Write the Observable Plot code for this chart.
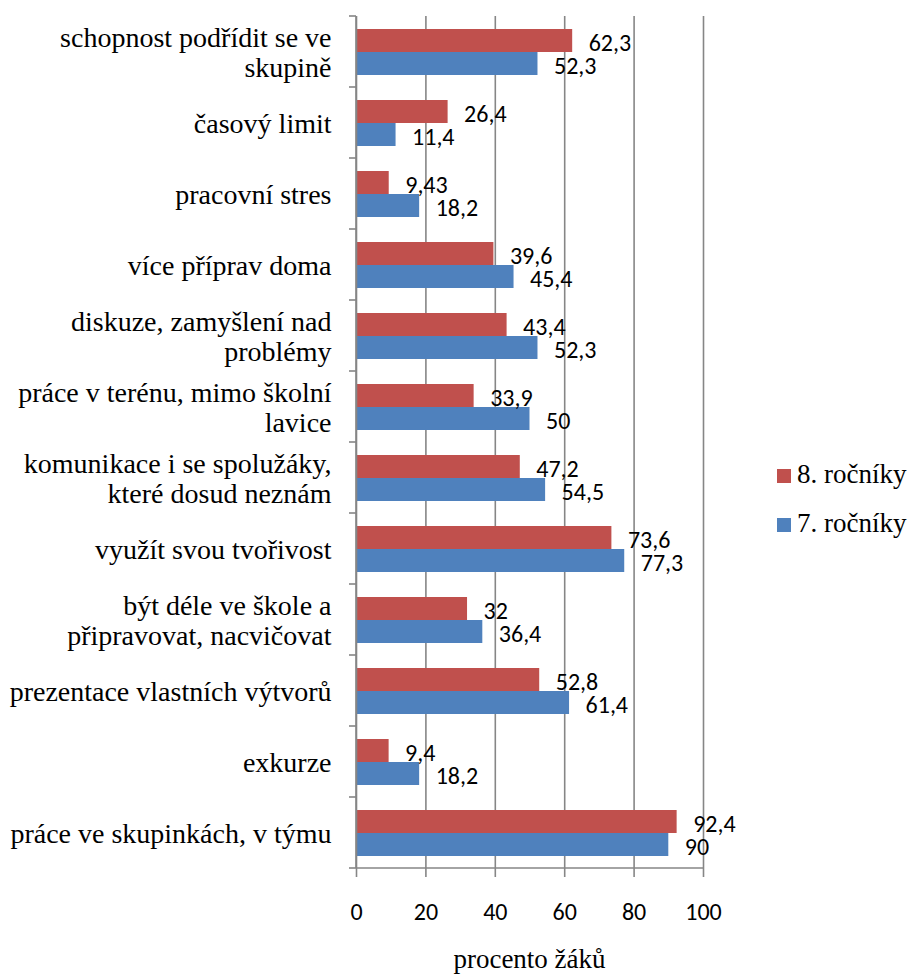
<!DOCTYPE html>
<html><head><meta charset="utf-8">
<script src="https://cdn.jsdelivr.net/npm/d3@7"></script>
<script src="https://cdn.jsdelivr.net/npm/@observablehq/plot@0.6"></script>
<style>
body{margin:0;background:#fff;}
#wrap{position:relative;width:914px;height:979px;background:#fff;}
.lbl{position:absolute;color:#000;font-size:27px;line-height:27px;white-space:nowrap;}
.sw{position:absolute;width:14px;height:14px;}
</style></head><body>
<div id="wrap"></div>
<script>
const categories = [
  "schopnost podřídit se ve\nskupině",
  "časový limit",
  "pracovní stres",
  "více příprav doma",
  "diskuze, zamyšlení nad\nproblémy",
  "práce v terénu, mimo školní\nlavice",
  "komunikace i se spolužáky,\nkteré dosud neznám",
  "využít svou tvořivost",
  "být déle ve škole a\npřipravovat, nacvičovat",
  "prezentace vlastních výtvorů",
  "exkurze",
  "práce ve skupinkách, v týmu"
];
const series = ["8. ročníky", "7. ročníky"];
const values8 = [62.3, 26.4, 9.43, 39.6, 43.4, 33.9, 47.2, 73.6, 32, 52.8, 9.4, 92.4];
const values7 = [52.3, 11.4, 18.2, 45.4, 52.3, 50, 54.5, 77.3, 36.4, 61.4, 18.2, 90];
const colors = ["#C0504D", "#4F81BD"];
const xTicks = [0, 20, 40, 60, 80, 100];
const xTitle = "procento žáků";

const data = categories.flatMap((c, i) => [
  {cat: c, s: series[0], v: values8[i]},
  {cat: c, s: series[1], v: values7[i]}
]);
const fmt = v => String(v).replace(".", ",");
const gridColor = "#868686";
const SERIF = "Liberation Serif";
const SANS = "Carlito";

const plot = Plot.plot({
  width: 914, height: 979,
  marginLeft: 356, marginRight: 211, marginTop: 14, marginBottom: 110,
  x: {domain: [0, 100]},
  y: {domain: series, paddingInner: 0, paddingOuter: 0.52, axis: null},
  fy: {domain: categories, padding: 0, axis: null},
  color: {domain: series, range: colors},
  style: {background: "white", overflow: "visible"},
  marks: [
    Plot.gridX(xTicks.slice(1), {stroke: gridColor, strokeOpacity: 1, strokeWidth: 1.6}),
    Plot.barX(data, {fy: "cat", y: "s", x: "v", fill: "s"}),
    Plot.ruleX([0], {stroke: gridColor, strokeWidth: 1.6}),
    Plot.text(data, {fy: "cat", y: "s", x: "v", text: d => fmt(d.v), textAnchor: "start", dx: 16, dy: 2,
      fontFamily: SANS, fontSize: 24, fill: "#000"}),
    Plot.text(categories, {fy: d => d, text: d => d, frameAnchor: "left", textAnchor: "end", dx: -25,
      fontFamily: SERIF, fontSize: 28, lineHeight: 1.08, fill: "#000"}),
    Plot.axisX(xTicks, {anchor: "bottom", tickSize: 9, tickPadding: 25, stroke: gridColor, strokeWidth: 1.6,
      fontFamily: SANS, fontSize: 24, fill: "#000", label: null})
  ]
});

const wrap = document.getElementById("wrap");
wrap.appendChild(plot);

// axis lines and category boundary ticks from the plot's scales
const sx = plot.scale("x");
const sfy = plot.scale("fy");
const svg = d3.select(plot);
const x0 = sx.apply(0), x100 = sx.apply(100);
let bounds;
if (sfy && sfy.apply) {
  bounds = categories.map(c => sfy.apply(c));
  bounds.push(sfy.apply(categories[categories.length - 1]) + sfy.bandwidth);
} else {
  const step = (979 - 110 - 14) / categories.length;
  bounds = d3.range(categories.length + 1).map(i => 14 + i * step);
}
const g = svg.append("g").attr("stroke", gridColor).attr("stroke-width", 1.6);
bounds.forEach(b => g.append("line").attr("x1", x0 - 7).attr("x2", x0).attr("y1", b).attr("y2", b));
const yb = bounds[bounds.length - 1];
g.append("line").attr("x1", x0).attr("x2", x100).attr("y1", yb).attr("y2", yb);
g.append("line").attr("x1", x0).attr("x2", x0).attr("y1", bounds[0]).attr("y2", yb);

// axis title
const t = document.createElement("div");
t.className = "lbl";
t.style.fontFamily = SERIF;
t.textContent = xTitle;
t.style.left = ((x0 + x100) / 2) + "px";
t.style.transform = "translateX(-50%)";
t.style.top = "946px";
wrap.appendChild(t);

// legend
const legTops = [469, 518];
series.forEach((s, i) => {
  const sw = document.createElement("div");
  sw.className = "sw";
  sw.style.background = colors[i];
  sw.style.left = "777px";
  sw.style.top = legTops[i] + "px";
  wrap.appendChild(sw);
  const lt = document.createElement("div");
  lt.className = "lbl";
  lt.style.fontFamily = SERIF;
  lt.textContent = s;
  lt.style.left = "797px";
  lt.style.top = (legTops[i] - 8.5) + "px";
  wrap.appendChild(lt);
});
</script>
</body></html>
